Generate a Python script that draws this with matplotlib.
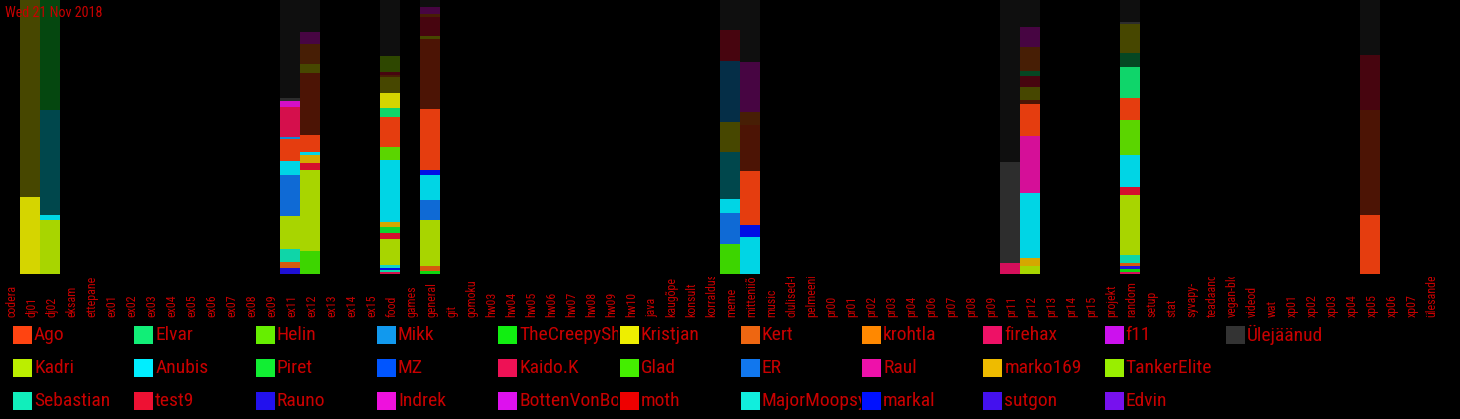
import matplotlib
matplotlib.use("Agg")
import matplotlib.pyplot as plt
from matplotlib.patches import Rectangle
from matplotlib.transforms import Bbox, TransformedBbox

# channels on the x axis (labels as shown, long ones are cut off)
channels = ['codera', 'dj01', 'dj02', 'eksam', 'ettepanek', 'ex01', 'ex02', 'ex03',
            'ex04', 'ex05', 'ex06', 'ex07', 'ex08', 'ex09', 'ex11', 'ex12', 'ex13',
            'ex14', 'ex15', 'food', 'games', 'general', 'git', 'gomoku', 'hw03',
            'hw04', 'hw05', 'hw06', 'hw07', 'hw08', 'hw09', 'hw10', 'java', 'kaugõpe',
            'konsult', 'korraldus', 'meme', 'mitteniiõlu', 'music', 'olulised-ti',
            'pelmeeni-', 'pr00', 'pr01', 'pr02', 'pr03', 'pr04', 'pr06', 'pr07',
            'pr08', 'pr09', 'pr11', 'pr12', 'pr13', 'pr14', 'pr15', 'projekt',
            'random', 'setup', 'stat', 'syvapy-', 'teadaanded', 'vegan-blo',
            'videod', 'wat', 'xp01', 'xp02', 'xp03', 'xp04', 'xp05', 'xp06', 'xp07',
            'ülesanded']

# legend users (column by column)
users = ['Ago', 'Kadri', 'Sebastian', 'Elvar', 'Anubis', 'test9', 'Helin', 'Piret',
         'Rauno', 'Mikk', 'MZ', 'Indrek', 'TheCreepySh', 'Kaido.K', 'BottenVonBot',
         'Kristjan', 'Glad', 'moth', 'Kert', 'ER', 'MajorMoopsy', 'krohtla', 'Raul',
         'markal', 'firehax', 'marko169', 'sutgon', 'f11', 'TankerElite', 'Edvin',
         'Ülejäänud']
user_colors = ['#ff4411', '#bbee00', '#11eebb', '#11ee77', '#00eeff', '#ee1133',
               '#66ee00', '#11ee33', '#2211ee', '#1199ee', '#0055ff', '#ee11dd',
               '#11ee11', '#ee1155', '#dd11ee', '#eeee00', '#44ee00', '#ee0000',
               '#ee6611', '#1177ee', '#11eedd', '#ff8800', '#ee11aa', '#0011ff',
               '#ee1166', '#eebb00', '#4411ee', '#cc11ee', '#99ee00', '#7711ee',
               '#333333']

# share of messages per channel, bottom to top: (user, share, period)
# 'n' = today, 'v' = earlier (drawn faded)
dj01 = [('Kristjan', 77, 'n'), ('Kristjan', 197, 'v')]
dj02 = [('Kadri', 54, 'n'), ('Anubis', 5, 'n'), ('Anubis', 105, 'v'), ('Piret', 110, 'v')]
ex11 = [('Rauno', 6, 'n'), ('Kert', 6, 'n'), ('Sebastian', 13, 'n'), ('Kadri', 33, 'n'),
        ('ER', 40, 'n'), ('Anubis', 14, 'n'), ('Ago', 22, 'n'), ('Mikk', 2, 'n'),
        ('Kaido.K', 30, 'n'), ('Indrek', 6, 'n'), ('Ülejäänud', 3, 'n'),
        ('Ülejäänud', 97, 'v')]
ex12 = [('Glad', 23, 'n'), ('Kadri', 80, 'n'), ('test9', 7, 'n'), ('marko169', 8, 'n'),
        ('Anubis', 3, 'n'), ('Ago', 17, 'n'), ('Ago', 62, 'v'), ('Kristjan', 8, 'v'),
        ('Kert', 20, 'v'), ('Indrek', 12, 'v'), ('Ülejäänud', 32, 'v')]
food = [('Kaido.K', 2, 'n'), ('Sebastian', 2, 'n'), ('markal', 2, 'n'),
        ('MajorMoopsy', 3, 'n'), ('Kadri', 26, 'n'), ('test9', 6, 'n'), ('Piret', 6, 'n'),
        ('marko169', 5, 'n'), ('Anubis', 62, 'n'), ('Helin', 13, 'n'), ('Ago', 29, 'n'),
        ('Elvar', 9, 'n'), ('Kristjan', 15, 'n'), ('Kristjan', 16, 'v'), ('Kert', 2, 'v'),
        ('test9', 3, 'v'), ('TankerElite', 16, 'v'), ('Ülejäänud', 56, 'v')]
general = [('TheCreepySh', 3, 'n'), ('Kert', 5, 'n'), ('Kadri', 46, 'n'), ('ER', 20, 'n'),
           ('Anubis', 25, 'n'), ('markal', 5, 'n'), ('Ago', 60, 'n'), ('Ago', 70, 'v'),
           ('Kristjan', 3, 'v'), ('test9', 19, 'v'), ('Kert', 3, 'v'), ('Indrek', 7, 'v'),
           ('Ülejäänud', 7, 'v')]
meme = [('Glad', 30, 'n'), ('ER', 31, 'n'), ('Anubis', 14, 'n'), ('Anubis', 47, 'v'),
        ('Kristjan', 30, 'v'), ('Mikk', 61, 'v'), ('test9', 31, 'v'), ('Ülejäänud', 30, 'v')]
mitteniiolu = [('Anubis', 37, 'n'), ('markal', 12, 'n'), ('Ago', 54, 'n'), ('Ago', 46, 'v'),
               ('Kert', 13, 'v'), ('Indrek', 50, 'v'), ('Ülejäänud', 62, 'v')]
pr11 = [('firehax', 11, 'n'), ('Ülejäänud', 101, 'n'), ('Ülejäänud', 162, 'v')]
pr12 = [('Kadri', 8, 'n'), ('marko169', 8, 'n'), ('Anubis', 65, 'n'), ('Raul', 56, 'n'),
        ('Ago', 32, 'n'), ('Ago', 4, 'v'), ('Kristjan', 13, 'v'), ('test9', 11, 'v'),
        ('Elvar', 5, 'v'), ('Kert', 24, 'v'), ('Indrek', 20, 'v'), ('Ülejäänud', 27, 'v')]
random_ch = [('firehax', 2, 'n'), ('TheCreepySh', 3, 'n'), ('Rauno', 3, 'n'), ('Kert', 3, 'n'),
             ('Sebastian', 8, 'n'), ('Kadri', 60, 'n'), ('test9', 8, 'n'), ('Anubis', 32, 'n'),
             ('Helin', 34, 'n'), ('Ago', 22, 'n'), ('Elvar', 31, 'n'), ('Elvar', 14, 'v'),
             ('Kristjan', 29, 'v'), ('Ülejäänud', 2, 'n'), ('Ülejäänud', 22, 'v')]
xp05 = [('Ago', 59, 'n'), ('Ago', 105, 'v'), ('test9', 55, 'v'), ('Ülejäänud', 55, 'v')]

data = {'dj01': dj01, 'dj02': dj02, 'ex11': ex11, 'ex12': ex12, 'food': food,
        'general': general, 'meme': meme, 'mitteniiõlu': mitteniiolu, 'pr11': pr11,
        'pr12': pr12, 'random': random_ch, 'xp05': xp05}

title = 'Wed 21 Nov 2018'

RED = '#c80000'
FONT = ['Roboto Condensed', 'Noto Sans Condensed', 'Liberation Sans Narrow',
        'Open Sans Condensed', 'Liberation Sans', 'DejaVu Sans']
W, H = 1460, 419
color_of = dict(zip(users, user_colors))

fig = plt.figure(figsize=(W / 100, H / 100), dpi=100, facecolor='black')
ax = fig.add_axes([0, 145 / H, 1, 274 / H])
ax.set_facecolor('black')
ax.set_xlim(0, W / 20)
ax.set_ylim(0, 100)
ax.axis('off')

for i, ch in enumerate(channels):
    if ch not in data:
        continue
    segs = data[ch]
    total = float(sum(s[1] for s in segs))
    bottom = 0.0
    for user, val, period in segs:
        h = val / total * 100
        ax.bar(i, h, width=1, bottom=bottom, align='edge', color=color_of[user],
               alpha=0.9 if period == 'n' else 0.3, linewidth=0)
        bottom += h

# channel labels, cut at the bottom of the plot
clip = TransformedBbox(Bbox([[0, 0], [1, 142 / H]]), fig.transFigure)
for i, ch in enumerate(channels):
    t = fig.text((20 * i + 12) / W, 102 / H, ch, rotation=90, rotation_mode='anchor',
                 ha='left', va='center', color=RED, fontsize=8.6, family=FONT,
                 stretch='condensed')
    t.set_clip_box(clip)
    t.set_clip_on(True)

fig.text(5 / W, 1 - 13 / H, title, color=RED, fontsize=10.2, family=FONT,
         stretch='condensed', ha='left', va='center')

# legend: 3 rows, filled column by column; names cut at the next column
for k, (user, col) in enumerate(zip(users, user_colors)):
    c, r = divmod(k, 3)
    x0 = 13 + 121.3 * c
    y0 = 326 + 33 * r
    fig.patches.append(Rectangle((x0 / W, 1 - (y0 + 18) / H), 19 / W, 18 / H,
                                 transform=fig.transFigure, facecolor=col,
                                 edgecolor='none'))
    t = fig.text((x0 + 21) / W, 1 - (y0 + 9) / H, user, color=RED, fontsize=14,
                 family=FONT, stretch='condensed', ha='left', va='center')
    cell = TransformedBbox(Bbox([[(x0 + 20) / W, 0], [(x0 + 120) / W, 1]]),
                           fig.transFigure)
    t.set_clip_box(cell)
    t.set_clip_on(True)

fig.savefig('out.png', dpi=100, facecolor='black')
